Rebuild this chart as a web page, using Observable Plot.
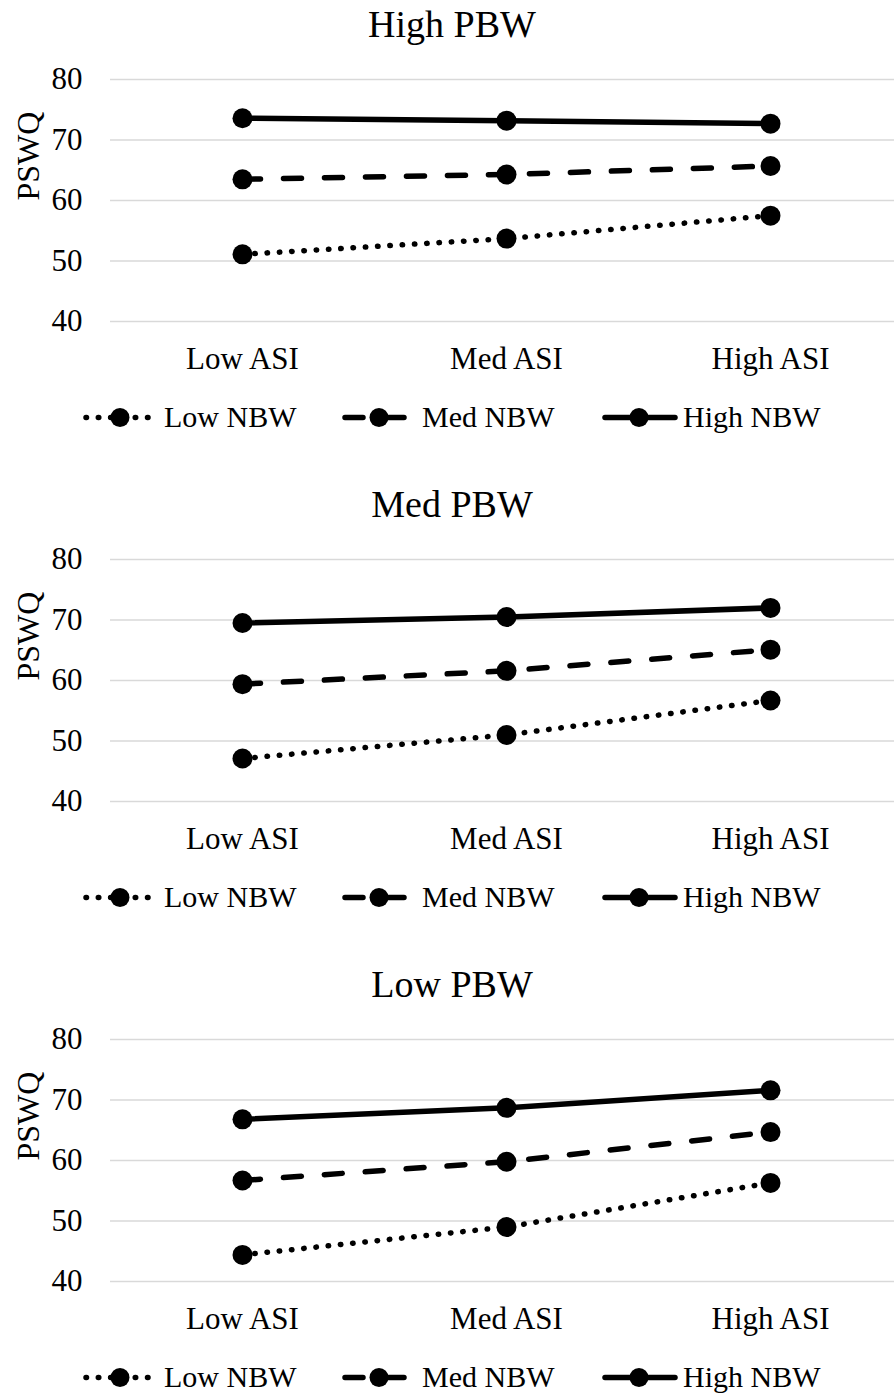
<!DOCTYPE html>
<html><head><meta charset="utf-8">
<script src="https://cdn.jsdelivr.net/npm/d3@7"></script>
<script src="https://cdn.jsdelivr.net/npm/@observablehq/plot@0.6"></script>
<style>
body{margin:0;background:#fff;font-family:'Liberation Serif','Times New Roman',Times,Tinos,'DejaVu Serif',serif;color:#000;}
.panel{width:894px;height:480px;overflow:hidden;}
.title{height:50px;line-height:48px;font-size:38px;text-align:center;padding-left:10px;width:884px;}
svg{display:block}
svg text{font-family:'Liberation Serif','Times New Roman',Times,Tinos,'DejaVu Serif',serif;}
</style></head><body><div id="chart"></div>
<script>
const categories = ["Low ASI", "Med ASI", "High ASI"];
const series = ["Low NBW", "Med NBW", "High NBW"];
const panelTitles = ["High PBW", "Med PBW", "Low PBW"];
const yTicks = [40, 50, 60, 70, 80];
const yLabel = "PSWQ";
// rows: Low NBW, Med NBW, High NBW; columns: Low ASI, Med ASI, High ASI
const highPBW = [[51.1, 53.7, 57.5], [63.5, 64.3, 65.7], [73.6, 73.2, 72.7]];
const medPBW  = [[47.1, 51.0, 56.7], [59.4, 61.6, 65.1], [69.5, 70.5, 72.0]];
const lowPBW  = [[44.4, 49.0, 56.3], [56.7, 59.8, 64.7], [66.8, 68.7, 71.6]];
const panelValues = [highPBW, medPBW, lowPBW];

const FONT = "'Liberation Serif','Times New Roman',Times,Tinos,'DejaVu Serif',serif";
const dashes = {"Low NBW": "0.5,11.8", "Med NBW": "18,23", "High NBW": undefined};
const legendStart = [86, 345, 605];
const legendText = [164, 422, 683];

const root = document.getElementById("chart");

panelTitles.forEach((title, pi) => {
  const panel = document.createElement("div");
  panel.className = "panel";
  const t = document.createElement("div");
  t.className = "title";
  t.textContent = title;
  panel.appendChild(t);

  const rows = [];
  panelValues[pi].forEach((vals, si) => vals.forEach((v, ci) =>
    rows.push({series: series[si], asi: categories[ci], value: v})));

  const chart = Plot.plot({
    width: 894, height: 335,
    marginTop: 29, marginBottom: 64, marginLeft: 110, marginRight: 0,
    x: {type: "point", domain: categories, range: [110, 902], padding: 0.5},
    y: {domain: [40, 80]},
    style: {fontFamily: FONT, fontSize: "31px", background: "white", color: "black"},
    marks: [
      Plot.ruleY(yTicks, {stroke: "#d9d9d9", strokeWidth: 1.5}),
      Plot.axisY({ticks: yTicks, tickSize: 0, tickPadding: 28, label: null}),
      Plot.axisX({tickSize: 0, tickPadding: 25, label: null}),
      Plot.text([yLabel], {text: d => d, frameAnchor: "left", dx: -82, rotate: -90, fontSize: 32}),
      ...series.map(s => Plot.line(rows.filter(r => r.series === s), {
        x: "asi", y: "value", stroke: "black", strokeWidth: 5.5,
        strokeLinecap: "round", strokeLinejoin: "round", strokeDasharray: dashes[s]
      })),
      Plot.dot(rows, {x: "asi", y: "value", r: 10, fill: "black"})
    ]
  });
  panel.appendChild(chart);

  const leg = d3.create("svg").attr("width", 894).attr("height", 95);
  series.forEach((s, i) => {
    const sx = legendStart[i];
    const cy = 32.5;
    const ln = leg.append("line").attr("x1", sx).attr("x2", sx + 70).attr("y1", cy).attr("y2", cy)
      .attr("stroke", "black").attr("stroke-width", 5.5).attr("stroke-linecap", "round");
    if (dashes[s]) ln.attr("stroke-dasharray", dashes[s]);
    leg.append("circle").attr("cx", sx + 34).attr("cy", cy).attr("r", 9.5).attr("fill", "black");
    leg.append("text").attr("x", legendText[i]).attr("y", 42)
      .attr("font-size", 30).attr("fill", "black").text(s);
  });
  panel.appendChild(leg.node());
  root.appendChild(panel);
});
</script></body></html>
